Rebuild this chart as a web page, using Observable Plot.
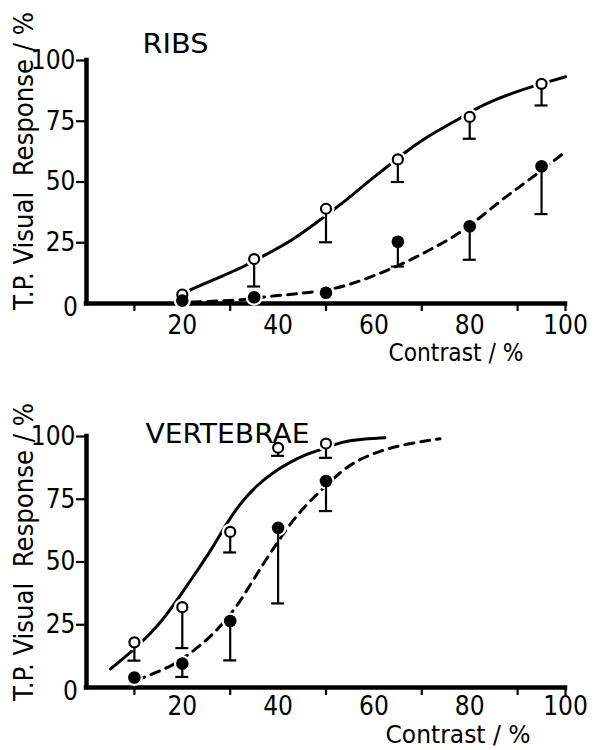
<!DOCTYPE html>
<html><head><meta charset="utf-8">
<script src="https://cdn.jsdelivr.net/npm/d3@7"></script>
<script src="https://cdn.jsdelivr.net/npm/@observablehq/plot@0.6"></script>
<style>
body{margin:0;background:#fff;width:602px;height:750px;overflow:hidden}
svg{display:block}
svg text{white-space:pre}
</style></head><body><div id="chart"></div>
<script>
// ---------- RIBS ----------
const ribsTitle = "RIBS";
const ribsContrast = [20, 35, 50, 65, 80, 95];
const ribsOpen = [3.7, 18.3, 39, 59.3, 76.8, 90.4];
const ribsOpenLow = [null, 7, 25.2, 50, 67.8, 81.5];
const ribsFilled = [1.2, 2.6, 4.4, 25.4, 31.8, 56.5];
const ribsFilledLow = [null, null, null, 15.2, 18, 36.8];
const ribsSolidX = [21, 27, 33, 37, 43, 48, 54, 59, 62, 66, 71, 77, 81, 86, 90, 97, 100];
const ribsSolidY = [5, 10.2, 15.2, 19.7, 26, 33.3, 42.1, 50.5, 55, 61.5, 68.6, 75, 80, 84.4, 87.4, 91.6, 93.3];
const ribsDashX = [22, 25, 30, 35, 38, 42, 46, 52, 56, 60, 64, 68, 72, 76, 80, 84, 88, 92, 96, 100];
const ribsDashY = [0.6, 0.8, 1.2, 2, 3, 3.6, 4.4, 6.1, 8.5, 11.4, 14.6, 18.3, 22.4, 26.7, 31.8, 38.4, 44.6, 50.3, 56.3, 62.5];

// ---------- VERTEBRAE ----------
const vertTitle = "VERTEBRAE";
const vertContrast = [10, 20, 30, 40, 50];
const vertOpen = [18, 32, 62, 95.5, 97.2];
const vertOpenLow = [10.7, 15.7, 53.8, 92.3, 91.5];
const vertFilled = [4, 9.5, 26.5, 63.6, 82.3];
const vertFilledLow = [null, 4.2, 10.8, 33.5, 70.3];
const vertSolidX = [5, 8, 11, 15.3, 18.1, 19.8, 23.6, 26.4, 29.2, 32, 35.5, 39, 42.5, 46, 49.5, 53, 56.4, 62.3];
const vertSolidY = [7.4, 12, 17, 25.4, 32.7, 37.3, 47.9, 55.9, 65.2, 73.2, 80.5, 85.8, 89.8, 93.1, 95.1, 97.7, 98.8, 99.5];
const vertDashX = [10.4, 13.9, 18.1, 21.5, 25, 27.8, 31.3, 34.1, 36.9, 39.7, 42.5, 46, 49.4, 52.9, 56.4, 61.3, 66.9, 73.8];
const vertDashY = [2.8, 5.5, 8.8, 13.4, 18.7, 24, 32, 40.6, 49.3, 57.3, 65.2, 73.2, 79.2, 85.8, 90.4, 94.4, 97.1, 99.1];

// ---------- axes ----------
const xLabelTicks = [20, 40, 60, 80, 100];
const xMinorTicks = [10, 30, 50, 70, 90, 100];
const yTicks = [25, 50, 75, 100];
const originLabel = ["0"];
const xTitle = "Contrast / %";
const yTitle = "T.P. Visual  Response / %";

const FONT = "'Liberation Sans Narrow', 'DejaVu Sans Condensed', 'Roboto', sans-serif";

function zipPts(xs, ys, lows) {
  return xs.map((x, i) => ({x, y: ys[i], low: lows ? lows[i] : null}));
}

function fitText(svg, content, len) {
  svg.querySelectorAll("text").forEach(t => {
    if (t.textContent === content) {
      t.setAttribute("textLength", len);
      t.setAttribute("lengthAdjust", "spacingAndGlyphs");
    }
  });
}

function panel(cfg) {
  const open = zipPts(cfg.contrast, cfg.open, cfg.openLow);
  const filled = zipPts(cfg.contrast, cfg.filled, cfg.filledLow);
  const solid = zipPts(cfg.solidX, cfg.solidY);
  const dash = zipPts(cfg.dashX, cfg.dashY);
  const bars = [...open, ...filled].filter(d => d.low != null);
  const svg = Plot.plot({
    width: 602, height: 375,
    marginLeft: 86, marginRight: 37, marginTop: cfg.mt, marginBottom: cfg.mb,
    x: {domain: [0, 100], label: null},
    y: {domain: [0, 100], label: null},
    style: {fontFamily: FONT, fontSize: "26px", background: "white", color: "black", overflow: "visible"},
    marks: [
      Plot.axisX(xMinorTicks, {tickSize: 8, tickFormat: () => "", strokeWidth: 2.2}),
      Plot.axisX(xLabelTicks, {tickSize: 0, tickPadding: cfg.xPad, fontSize: 26}),
      Plot.axisY(yTicks, {tickSize: 10, tickPadding: 1, strokeWidth: 2.2, fontSize: 26}),
      Plot.text(originLabel, {frameAnchor: "bottom-left", dx: -16, dy: cfg.zeroDy, fontSize: 26, text: d => d, textAnchor: "middle"}),
      Plot.ruleY([0], {stroke: "black", strokeWidth: 4.5, strokeLinecap: "square"}),
      Plot.ruleX([0], {stroke: "black", strokeWidth: 4.5, strokeLinecap: "square"}),
      Plot.line(solid, {x: "x", y: "y", stroke: "black", strokeWidth: 3, curve: "basis"}),
      Plot.line(dash, {x: "x", y: "y", stroke: "black", strokeWidth: 3, strokeDasharray: "9,7", curve: "basis"}),
      Plot.dot(open, {x: "x", y: "y", r: 8.5, fill: "white", stroke: "none"}),
      Plot.dot(filled, {x: "x", y: "y", r: 8.5, fill: "white", stroke: "none"}),
      Plot.ruleX(bars, {x: "x", y1: "y", y2: "low", stroke: "black", strokeWidth: 2.2}),
      Plot.ruleY(bars, {y: "low", x1: "x", x2: "x", insetLeft: -6.5, insetRight: -6.5, stroke: "black", strokeWidth: 2.2}),
      Plot.dot(open, {x: "x", y: "y", r: 5, fill: "white", stroke: "black", strokeWidth: 2.2}),
      Plot.dot(filled, {x: "x", y: "y", r: 6.3, fill: "black", stroke: "none"}),
      Plot.text([cfg.title], {frameAnchor: "top-left", dx: cfg.titleDx, dy: cfg.titleDy, text: d => d, textAnchor: "start", fontSize: 27}),
      Plot.text([xTitle], {frameAnchor: "bottom-right", dx: cfg.xtDx, dy: cfg.xtDy, text: d => d, textAnchor: "end", fontSize: 24}),
      Plot.text([yTitle], {frameAnchor: "left", dx: -62, dy: cfg.ytDy, rotate: -90, text: d => d, textAnchor: "middle", fontSize: 27})
    ]
  });
  fitText(svg, cfg.title, cfg.titleLen);
  fitText(svg, xTitle, cfg.xtLen);
  fitText(svg, yTitle, 298);
  return svg;
}

const root = document.getElementById("chart");
root.appendChild(panel({
  title: ribsTitle, contrast: ribsContrast, open: ribsOpen, openLow: ribsOpenLow,
  filled: ribsFilled, filledLow: ribsFilledLow, solidX: ribsSolidX, solidY: ribsSolidY,
  dashX: ribsDashX, dashY: ribsDashY, titleLen: 66, xtLen: 135, xtDx: -42, xPad: 12,
  mt: 60, mb: 72, zeroDy: 12, titleDx: 56, titleDy: -27, xtDy: 57, ytDy: -21
}));
root.appendChild(panel({
  title: vertTitle, contrast: vertContrast, open: vertOpen, openLow: vertOpenLow,
  filled: vertFilled, filledLow: vertFilledLow, solidX: vertSolidX, solidY: vertSolidY,
  dashX: vertDashX, dashY: vertDashY, titleLen: 164, xtLen: 145, xtDx: -35, xPad: 9,
  mt: 61, mb: 63, zeroDy: 12, titleDx: 59, titleDy: -13, xtDy: 55, ytDy: -10
}));
</script></body></html>
